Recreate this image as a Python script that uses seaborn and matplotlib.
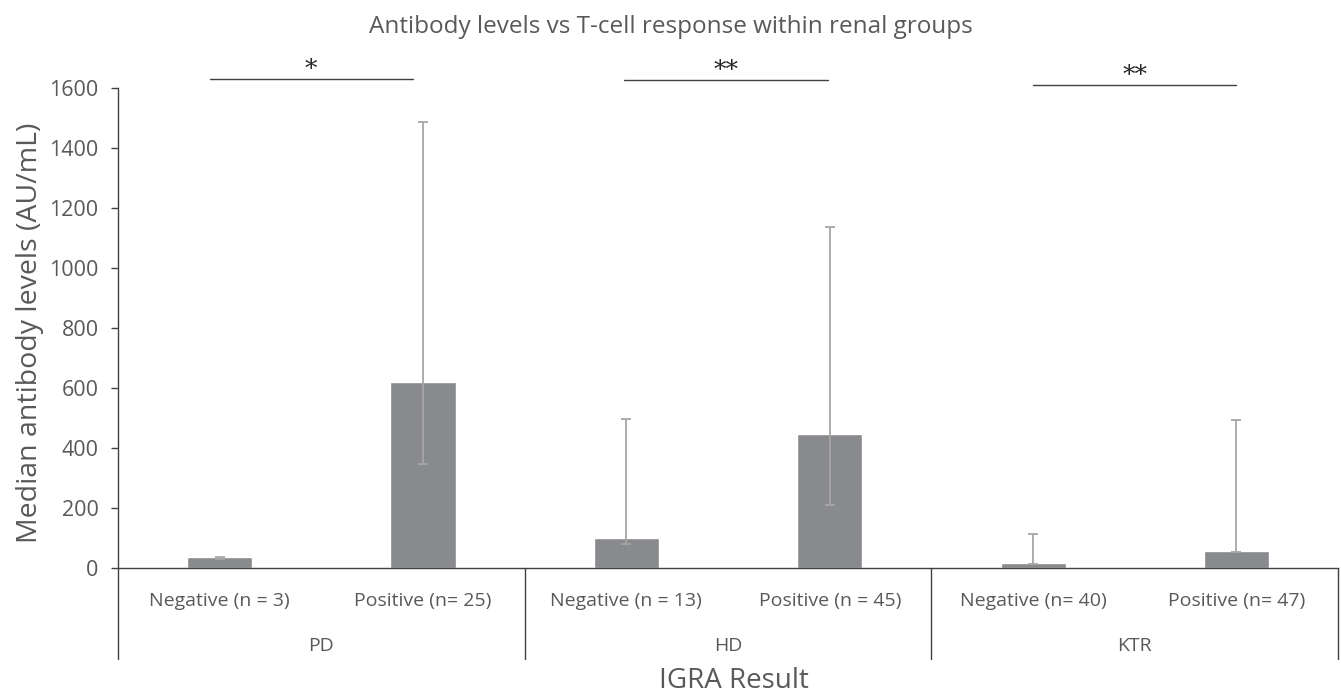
import numpy as np
import pandas as pd
import seaborn as sns
import matplotlib.pyplot as plt
import matplotlib.transforms as mtransforms

# data
groups = ["PD", "HD", "KTR"]
categories = ["Negative (n = 3)", "Positive (n= 25)",
              "Negative (n = 13)", "Positive (n = 45)",
              "Negative (n= 40)", "Positive (n= 47)"]
medians = [38, 619, 99, 447, 17, 57]
err_low = [30, 346, 80, 210, 13, 53]
err_high = [36, 1488, 497, 1136, 113, 493]
sig_labels = ["*", "**", "**"]

df = pd.DataFrame({"cat": categories, "median": medians})

sns.set_style("white")
plt.rcParams['font.family'] = ['Open Sans', 'DejaVu Sans']
grey = "#595959"

fig = plt.figure(figsize=(13.41, 6.95), dpi=100)
ax = fig.add_axes([0.088, 0.1827, 0.9098, 0.6907])

sns.barplot(data=df, x="cat", y="median", color="#898A8D", width=0.32,
            saturation=1, ax=ax)

# range bars (low..high, not centred on the median)
x = np.arange(len(categories))
lo = np.array(err_low)
hi = np.array(err_high)
ax.errorbar(x, (lo + hi) / 2, yerr=(hi - lo) / 2, fmt="none", ecolor="#A6A6A6",
            elinewidth=1.3, capsize=3.5, capthick=1.3)

ax.set_xlim(-0.5, len(categories) - 0.5)
ax.set_ylim(0, 1600)
ax.set_yticks(range(0, 1601, 200))
ax.tick_params(axis="y", labelsize=15.5, labelcolor=grey, colors="#404040",
               length=5, width=1, left=True, direction="out", pad=9)
ax.tick_params(axis="x", length=0, labelsize=14, labelcolor=grey, pad=17)

for s in ["top", "right"]:
    ax.spines[s].set_visible(False)
for s in ["left", "bottom"]:
    ax.spines[s].set_color("#404040")
    ax.spines[s].set_linewidth(1)

ax.set_xlabel("IGRA Result", fontsize=20, color=grey, va="center")
ax.xaxis.set_label_coords(0.505, -0.236)
ax.set_ylabel("Median antibody levels (AU/mL)", fontsize=20.5, color=grey,
              va="center")
ax.yaxis.set_label_coords(-0.072, 0.49)

trans = mtransforms.blended_transform_factory(ax.transData, ax.transAxes)
for i, g in enumerate(groups):
    ax.text(2 * i + 0.5, -0.163, g, transform=trans, ha="center", va="center",
            fontsize=14, color=grey)
for xb in np.arange(-0.5, len(categories), 2):
    ax.plot([xb, xb], [0, -0.19], transform=trans, color="#404040", lw=1,
            clip_on=False)

# significance bars
sig_x0 = [-0.05, 1.99, 4.0]
sig_y = [1630, 1627, 1610]
for i, lab in enumerate(sig_labels):
    x0 = sig_x0[i]
    ax.plot([x0, x0 + 1.0], [sig_y[i], sig_y[i]], color="#404040", lw=1,
            clip_on=False)
    ax.text(x0 + 0.5, sig_y[i] - 8, lab, ha="center", va="bottom",
            fontsize=18, color="#262626", family="DejaVu Serif")

fig.text(0.5, 0.961, "Antibody levels vs T-cell response within renal groups",
         ha="center", va="center", fontsize=17.5, color=grey)

fig.savefig("out.png", dpi=100)
